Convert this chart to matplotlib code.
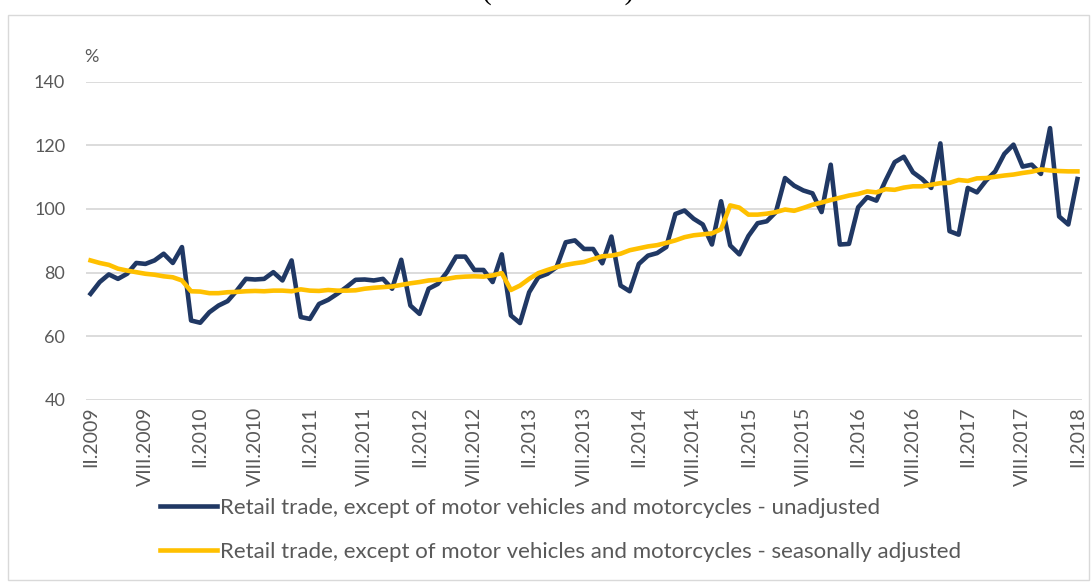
import matplotlib
matplotlib.use("Agg")
import matplotlib.pyplot as plt
from matplotlib.patches import Rectangle

plt.rcParams['font.family'] = ['Lato', 'DejaVu Sans']

roman = ["I", "II", "III", "IV", "V", "VI", "VII", "VIII", "IX", "X", "XI", "XII"]
months = []
for k in range(109):
    m = (1 + k) % 12
    y = 2009 + (1 + k) // 12
    months.append(f"{roman[m]}.{y}")

unadjusted = [
    73.3, 77.0, 79.4, 78.0, 79.6, 83.0, 82.7, 83.8, 85.9, 83.0, 88.0,
    64.9, 64.2, 67.5, 69.6, 71.0, 74.3, 78.0, 77.8, 78.0, 80.1, 77.5, 83.8,
    66.0, 65.4, 70.1, 71.4, 73.3, 75.4, 77.7, 77.8, 77.5, 78.0, 74.9, 84.0,
    69.6, 67.0, 74.9, 76.4, 80.1, 85.0, 85.0, 80.8, 80.8, 77.0, 85.7,
    66.5, 64.1, 73.8, 78.5, 79.6, 81.7, 89.5, 90.1, 87.4, 87.4, 82.9, 91.3,
    75.9, 74.1, 82.7, 85.3, 86.1, 88.0, 98.4, 99.5, 96.9, 95.1, 88.8, 102.4,
    88.5, 85.7, 91.5, 95.5, 96.1, 99.0, 109.7, 107.3, 105.8, 104.9, 99.0, 113.9,
    88.8, 89.0, 100.5, 103.7, 102.6, 108.9, 114.7, 116.4, 111.5, 109.4, 106.6, 120.6,
    93.0, 91.9, 106.6, 105.2, 108.9, 111.8, 117.3, 120.2, 113.3, 113.9, 111.0, 125.4,
    97.6, 95.1, 109.4,
]

adjusted = [
    83.8, 83.0, 82.4, 81.2, 80.6, 80.1, 79.6, 79.3, 78.8, 78.5, 77.5,
    74.1, 74.0, 73.5, 73.5, 73.8, 73.9, 74.1, 74.2, 74.1, 74.3, 74.3, 74.1,
    74.7, 74.3, 74.2, 74.5, 74.3, 74.3, 74.4, 74.9, 75.2, 75.4, 75.6, 76.1,
    76.6, 77.0, 77.5, 77.7, 78.0, 78.5, 78.7, 78.8, 78.7, 79.1, 79.8,
    74.5, 75.9, 78.0, 79.8, 80.8, 81.7, 82.4, 82.9, 83.3, 84.2, 85.1, 85.3,
    85.9, 87.0, 87.6, 88.2, 88.6, 89.3, 90.1, 91.1, 91.7, 92.0, 92.3, 93.6,
    101.1, 100.4, 98.2, 98.2, 98.5, 99.0, 99.8, 99.4, 100.3, 101.3, 102.0, 102.8,
    103.5, 104.2, 104.7, 105.5, 105.2, 106.2, 106.0, 106.7, 107.1, 107.1, 107.6, 108.1,
    108.2, 109.1, 108.8, 109.6, 109.7, 110.1, 110.5, 110.8, 111.3, 111.7, 112.4, 112.1,
    111.9, 111.8, 111.8,
]

label_unadj = "Retail trade, except of motor vehicles and motorcycles - unadjusted"
label_adj = "Retail trade, except of motor vehicles and motorcycles - seasonally adjusted"
title_text = "(2015 = 100)"

W, H = 1091, 582
fig = plt.figure(figsize=(W / 100, H / 100), dpi=100)
ax = fig.add_axes([86 / W, 1 - 399.7 / H, (1082 - 86) / W, (399.7 - 81.7) / H])

x = list(range(len(months)))
ax.plot(x, unadjusted, color="#203864", lw=3.3, solid_joinstyle="round", label=label_unadj, zorder=3)
ax.plot(x, adjusted, color="#ffc000", lw=3.3, solid_joinstyle="round", label=label_adj, zorder=4)

ax.set_xlim(-0.5, len(months) - 0.5)
ax.set_ylim(40, 140)
ax.set_yticks([40, 60, 80, 100, 120, 140])
ax.set_xticks(x[::6])
ax.set_xticklabels(months[::6], rotation=90, va="top", ha="center")
ax.tick_params(axis="both", length=0, colors="#595959")
ax.tick_params(axis="y", pad=15, labelsize=13)
ax.tick_params(axis="x", pad=5, labelsize=14)
ax.grid(axis="y", color="#d9d9d9", lw=1.3)
ax.set_axisbelow(True)
for s in ax.spines.values():
    s.set_visible(False)

fig.text(84 / W, 1 - 57 / H, "%", fontsize=13, color="#595959", ha="left", va="center")
fig.text(558 / W, 1 + 1.5 / H, title_text, fontsize=21, family="Liberation Serif",
         color="#000000", ha="center", va="baseline")

fig.patches.append(Rectangle((8 / W, 2 / H), (1089 - 8) / W, (582 - 15 - 2) / H,
                             transform=fig.transFigure, fill=False,
                             edgecolor="#d9d9d9", lw=1.0))

leg = fig.legend(loc="upper left", bbox_to_anchor=(160 / W, 1 - 498 / H), frameon=False,
                 fontsize=16, handlelength=2.57, handletextpad=0.14, labelspacing=1.06,
                 borderpad=0, borderaxespad=0)
for t in leg.get_texts():
    t.set_color("#595959")

fig.savefig("out.png", dpi=100)
